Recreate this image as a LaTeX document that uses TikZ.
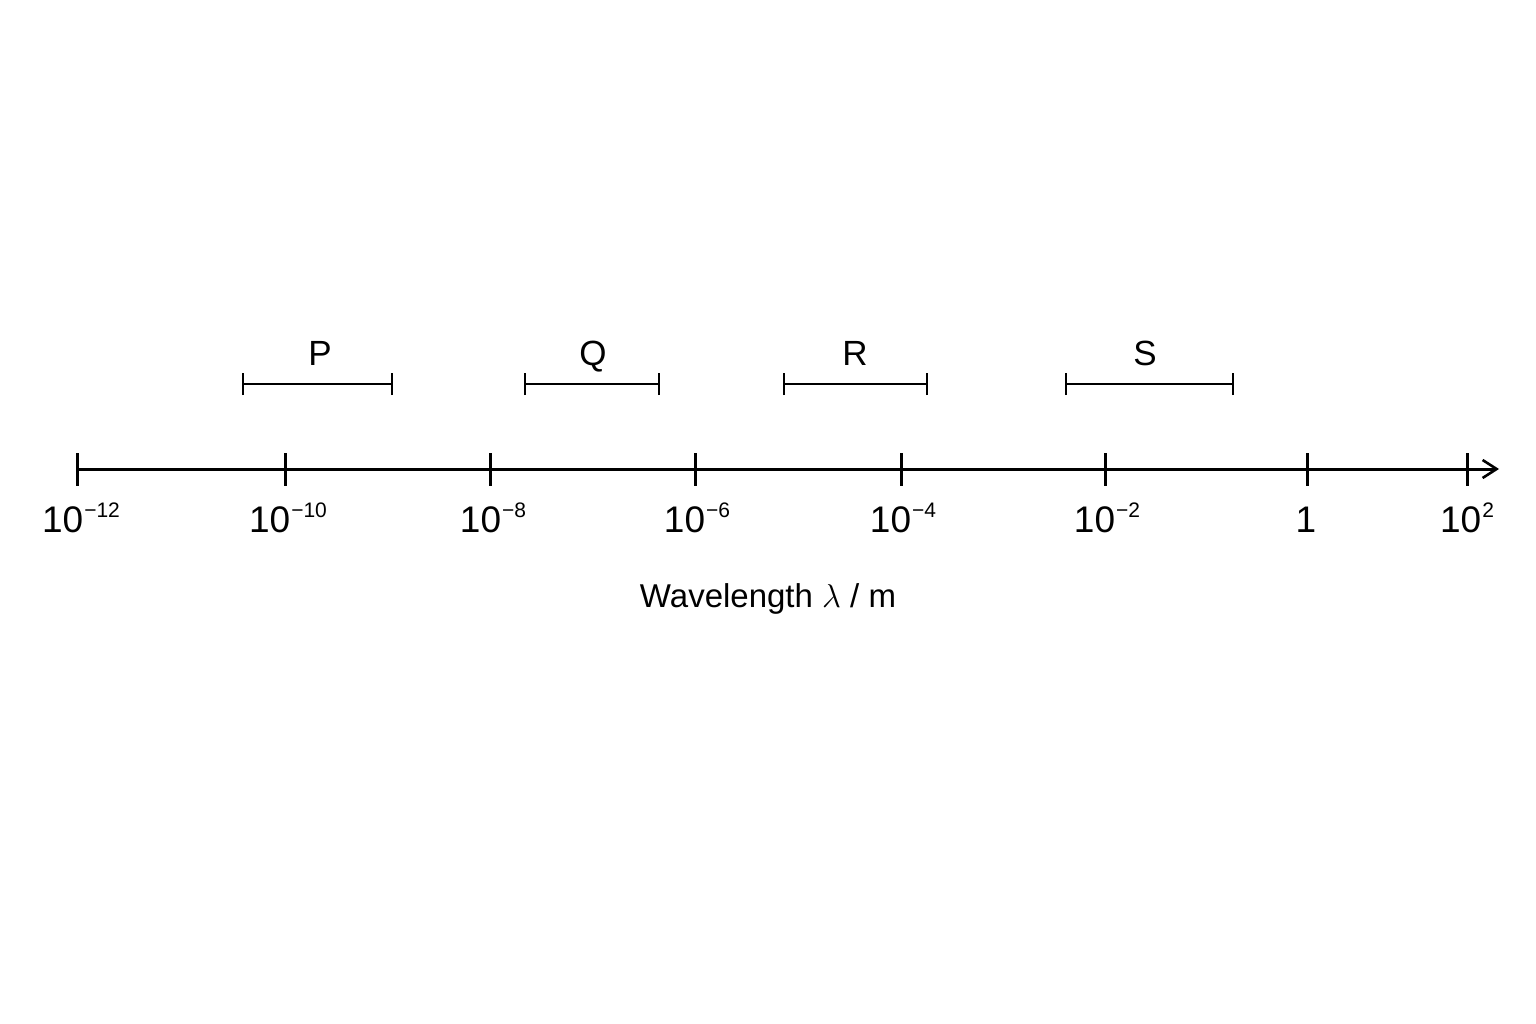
\RequirePackage{fix-cm}
\documentclass[tikz,border=0pt]{standalone}
\usepackage{fontspec}
\setmainfont{Liberation Sans}
\usetikzlibrary{arrows.meta,calc}
\newcommand{\tenpow}[1]{10\hspace{1pt}\raisebox{0.40em}{\fontsize{21}{21}\selectfont #1}}
\begin{document}
\begin{tikzpicture}[x=1pt,y=-1pt,
  axisline/.style={line width=3pt,draw=black},
  tickmark/.style={line width=3pt},
  ticklabel/.style={anchor=base,inner sep=0pt,font=\fontsize{37}{37}\selectfont},
  bandlabel/.style={anchor=base,inner sep=0pt,font=\fontsize{35}{35}\selectfont},
  band/.style={line width=2.8pt},
  titlelabel/.style={anchor=base,inner sep=0pt,font=\fontsize{33}{33}\selectfont}]
\useasboundingbox (0,0) rectangle (1536,1024);
\fill[white] (0,0) rectangle (1536,1024);
% axis coordinates
\coordinate (a0) at (76,469);
\coordinate (aend) at (1499,469);
\draw[axisline,-{Straight Barb[length=14pt,width=18pt,line width=2.6pt]}] (a0) -- (aend);
% ticks
\foreach \n/\x/\lx/\lab in {t1/77/81/\tenpow{−12},t2/285/288/\tenpow{−10},t3/490/493/\tenpow{−8},t4/695/697/\tenpow{−6},t5/901/903/\tenpow{−4},t6/1105/1107/\tenpow{−2},t7/1307/1306/1,t8/1467/1467/\tenpow{2}}{
  \coordinate (\n u) at (\x,453);
  \coordinate (\n d) at (\x,486);
  \draw[tickmark] (\n u) -- (\n d);
  \node[ticklabel] (\n l) at (\lx,532) {\lab};
}
% bands
\foreach \n/\xa/\xb/\lx in {P/243/392/320,Q/525/659/593,R/784/927/855,S/1066/1233/1145}{
  \coordinate (\n a) at (\xa,384);
  \coordinate (\n b) at (\xb,384);
  \draw[band] (\n a) -- (\n b);
  \draw[band] ([yshift=-11pt]\n a) -- ([yshift=11pt]\n a);
  \draw[band] ([yshift=-11pt]\n b) -- ([yshift=11pt]\n b);
  \node[bandlabel] (\n lab) at (\lx,365) {\n};
}
\node[titlelabel] (title) at (768,607) {Wavelength $\lambda$ / m};
\end{tikzpicture}
\end{document}
